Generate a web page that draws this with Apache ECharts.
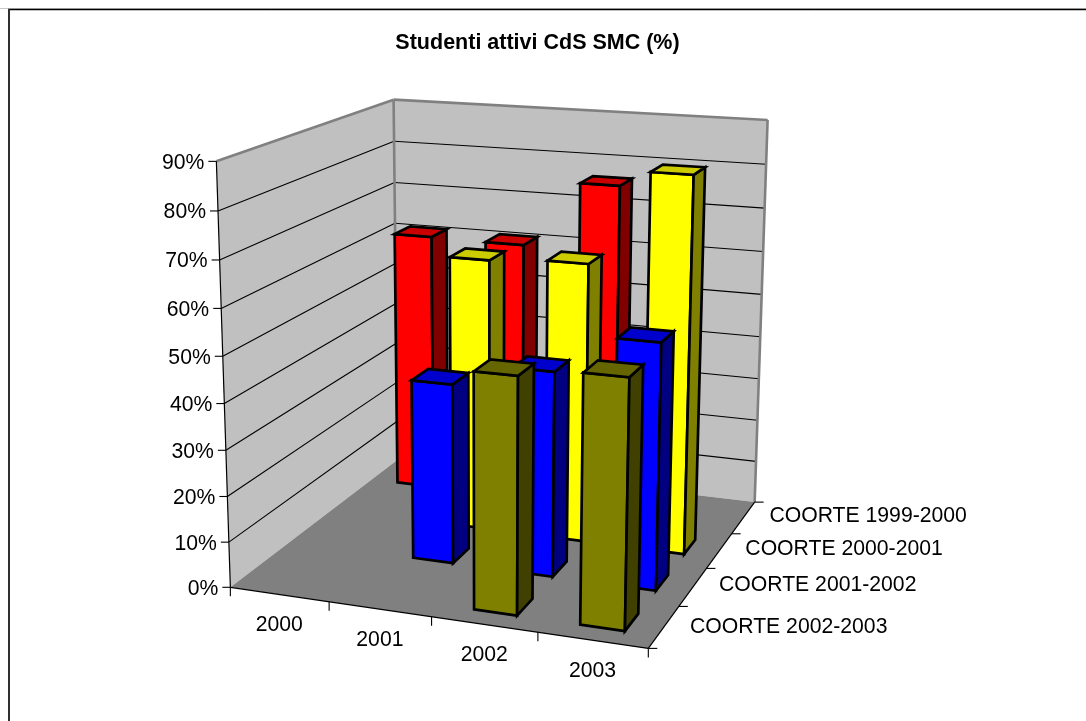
<!DOCTYPE html>
<html><head><meta charset="utf-8">
<style>html,body{margin:0;padding:0;background:#fff}#c{width:1086px;height:721px}</style>
<script src="https://cdn.jsdelivr.net/npm/echarts@6/dist/echarts.min.js"></script>
</head><body><div id="c"></div>
<script>
const titleText = 'Studenti attivi CdS SMC (%)';
const years = ['2000', '2001', '2002', '2003'];
const cohorts = ['COORTE 1999-2000', 'COORTE 2000-2001', 'COORTE 2001-2002', 'COORTE 2002-2003'];
const percentTicks = ['0%','10%','20%','30%','40%','50%','60%','70%','80%','90%'];
const coorte1999 = [61, 60.8, 76, null];
const coorte2000 = [null, 62, 63, 83.8];
const coorte2001 = [null, 40, 45, 53.4];
const coorte2002 = [null, null, 50.2, 52.2];
const seriesValues = [coorte1999, coorte2000, coorte2001, coorte2002];
const paints = [
  {front:'#ff0000', top:'#c80000', side:'#800000'},
  {front:'#ffff00', top:'#cccc00', side:'#808000'},
  {front:'#0000ff', top:'#0000cc', side:'#000080'},
  {front:'#808000', top:'#666600', side:'#404000'}
];
// Camera fit: box corners (x, depth, height in 0..1) to screen
const anchors = [
  [0,0,0,231,588],[1,0,0,648,648],[0,1,0,397,459],[1,1,0,755,502.5],
  [0,0,1,216,161],[0,1,1,394,100],[1,1,1,767.5,120]
];
function fitCamera(pts){
  const n=11, A=Array.from({length:n},()=>new Array(n+1).fill(0));
  const add=(r,b)=>{for(let i=0;i<n;i++){for(let j=0;j<n;j++)A[i][j]+=r[i]*r[j];A[i][n]+=r[i]*b;}};
  pts.forEach(([X,Y,Z,u,v])=>{
    add([X,Y,Z,1,0,0,0,0,-u*X,-u*Y,-u*Z],u);
    add([0,0,0,0,X,Y,Z,1,-v*X,-v*Y,-v*Z],v);
  });
  for(let i=0;i<n;i++){
    let p=i;for(let k=i+1;k<n;k++)if(Math.abs(A[k][i])>Math.abs(A[p][i]))p=k;
    [A[i],A[p]]=[A[p],A[i]];
    for(let k=0;k<n;k++){if(k===i)continue;const f=A[k][i]/A[i][i];for(let j=i;j<=n;j++)A[k][j]-=f*A[i][j];}
  }
  return A.map((r,i)=>r[n]/r[i]);
}
const cam = fitCamera(anchors);
function project(x,d,h){
  const w=cam[8]*x+cam[9]*d+cam[10]*h+1;
  return [(cam[0]*x+cam[1]*d+cam[2]*h+cam[3])/w,(cam[4]*x+cam[5]*d+cam[6]*h+cam[7])/w];
}
const FONT='21.2px "Liberation Sans", Arial, sans-serif';
const BAR_W=0.41, BAR_D=0.42;
function poly(points,fill,stroke,lw){
  return {type:'polygon',shape:{points},style:{fill,stroke:stroke||fill,lineWidth:lw||0,lineJoin:'miter'}};
}
function seg(a,b,stroke,lw){
  return {type:'line',shape:{x1:a[0],y1:a[1],x2:b[0],y2:b[1]},style:{stroke,lineWidth:lw||1}};
}
function label(text,x,y,align){
  return {type:'text',style:{text,x,y,font:FONT,fill:'#000',align:align,verticalAlign:'middle'}};
}
function renderFrame(params,api){
  const ch=[];
  const corner=(x,d,h)=>project(x,d,h);
  // sheet border
  ch.push(seg([0,8.5],[1086,8.5],'#c8c8c8',1));
  ch.push(seg([8,9.5],[1086,9.5],'#000',1.5));
  ch.push(seg([9,9],[9,721],'#303030',2));
  // walls and floor
  ch.push(poly([corner(0,0,0),corner(0,1,0),corner(0,1,1),corner(0,0,1)],'#c0c0c0'));
  ch.push(poly([corner(0,1,0),corner(1,1,0),corner(1,1,1),corner(0,1,1)],'#c0c0c0'));
  ch.push(poly([corner(0,0,0),corner(1,0,0),corner(1,1,0),corner(0,1,0)],'#808080'));
  // gridlines
  percentTicks.forEach((t,i)=>{
    const h=i/(percentTicks.length-1);
    if(i>0&&i<percentTicks.length-1){
      ch.push(seg(corner(0,0,h),corner(0,1,h),'#000',1.1));
      ch.push(seg(corner(0,1,h),corner(1,1,h),'#000',1.1));
    }
    const p=corner(0,0,h);
    ch.push(seg([p[0]-8,p[1]],p,'#000',1.1));
    ch.push(label(t,p[0]-12,p[1]+1.5,'right'));
  });
  // wall edges
  ch.push(seg(corner(0,0,1),corner(0,1,1),'#808080',2.6));
  ch.push(seg(corner(0,1,1),corner(1,1,1),'#808080',2.6));
  ch.push(seg(corner(0,1,1),corner(0,1,0),'#808080',2.6));
  ch.push(seg(corner(1,1,1),corner(1,1,0),'#808080',2.6));
  ch.push(seg(corner(0,0,1),corner(0,0,0),'#000',1.2));
  // axes
  ch.push(seg(corner(0,0,0),corner(1,0,0),'#000',1.2));
  ch.push(seg(corner(1,0,0),corner(1,1,0),'#000',1.2));
  for(let i=0;i<=years.length;i++){
    const p=corner(i/years.length,0,0);
    ch.push(seg(p,[p[0],p[1]+9],'#000',1.1));
  }
  for(let i=0;i<=cohorts.length;i++){
    const p=corner(1,i/cohorts.length,0);
    ch.push(seg(p,[p[0]+9,p[1]],'#000',1.1));
  }
  years.forEach((y,i)=>{
    const p=corner((i+0.5)/years.length,0,0);
    ch.push(label(y,p[0],p[1]+31,'center'));
  });
  const shifts=[-1.5,-1.5,-1.5,0];
  cohorts.forEach((c,i)=>{
    const p=corner(1,1-(i+0.5)/cohorts.length,0);
    ch.push(label(c,p[0]+26,p[1]+shifts[i],'left'));
  });
  return {type:'group',children:ch};
}
function renderBar(params,api){
  const cs=params.coordSys, row=params.seriesIndex-1;
  const c=api.coord([api.value(0),api.value(1)]);
  const band=api.size([1,0])[0]/cs.width;
  const x=(c[0]-cs.x)/cs.width, h=(cs.y+cs.height-c[1])/cs.height;
  const rowH=1/cohorts.length, d=1-(row+0.5)*rowH;
  const x0=x-band*BAR_W/2,x1=x+band*BAR_W/2,d0=d-rowH*BAR_D/2,d1=d+rowH*BAR_D/2;
  const paint=paints[row], lw=2.7;
  return {type:'group',children:[
    poly([project(x0,d0,0),project(x1,d0,0),project(x1,d0,h),project(x0,d0,h)],paint.front,'#000',lw),
    poly([project(x1,d0,0),project(x1,d1,0),project(x1,d1,h),project(x1,d0,h)],paint.side,'#000',lw),
    poly([project(x0,d0,h),project(x1,d0,h),project(x1,d1,h),project(x0,d1,h)],paint.top,'#000',lw)
  ]};
}
const series=[{type:'custom',name:'frame',silent:true,renderItem:renderFrame,data:[[0,0]],encode:{x:0,y:1},clip:false,z:1}];
cohorts.forEach((name,r)=>{
  const data=[];
  seriesValues[r].forEach((v,i)=>{if(v!==null)data.push([i,v]);});
  series.push({type:'custom',name,renderItem:renderBar,data,encode:{x:0,y:1},clip:false,z:2+r,silent:true});
});
const chart=echarts.init(document.getElementById('c'),null,{renderer:'canvas',width:1086,height:721});
chart.setOption({
  animation:false,backgroundColor:'#fff',
  title:{text:titleText,left:532.5,top:27,textAlign:'center',textStyle:{fontFamily:'"Liberation Sans", Arial, sans-serif',fontSize:21.5,fontWeight:'bold',color:'#000'}},
  grid:{left:0,right:0,top:0,bottom:0,containLabel:false},
  xAxis:{type:'category',data:years,show:false},
  yAxis:{type:'value',min:0,max:90,interval:10,show:false},
  tooltip:{show:false},
  series
});
</script></body></html>
